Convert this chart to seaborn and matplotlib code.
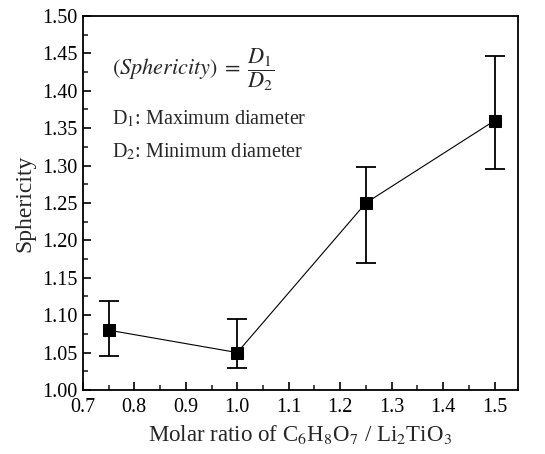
import numpy as np
import pandas as pd
import matplotlib
matplotlib.use('Agg')
import matplotlib.pyplot as plt
import seaborn as sns
from matplotlib.ticker import MultipleLocator

# Data
ratio = [0.75, 1.00, 1.25, 1.50]
sphericity = [1.08, 1.05, 1.25, 1.36]
err_low = [1.045, 1.030, 1.170, 1.296]
err_high = [1.119, 1.095, 1.298, 1.447]

df = pd.DataFrame({'ratio': ratio, 'sphericity': sphericity})

sns.set_style('ticks')
plt.rcParams['font.family'] = ['Liberation Serif', 'DejaVu Serif']
plt.rcParams['mathtext.fontset'] = 'stix'

fig = plt.figure(figsize=(5.45, 4.54), dpi=100)
ax = fig.add_axes([0.152, 0.141, 0.798, 0.824])

yerr = np.array([np.array(sphericity) - np.array(err_low),
                 np.array(err_high) - np.array(sphericity)])
ax.errorbar(ratio, sphericity, yerr=yerr, fmt='none', ecolor='black',
            elinewidth=1.3, capsize=7, capthick=1.3, zorder=2)
sns.lineplot(data=df, x='ratio', y='sphericity', ax=ax, color='black',
             linewidth=0.8, marker='s', markersize=9, markeredgecolor='black',
             markerfacecolor='black', zorder=3)

ax.set_xlim(0.7, 1.545)
ax.set_ylim(1.00, 1.50)
ax.xaxis.set_major_locator(MultipleLocator(0.1))
ax.xaxis.set_minor_locator(MultipleLocator(0.05))
ax.yaxis.set_major_locator(MultipleLocator(0.05))
ax.yaxis.set_minor_locator(MultipleLocator(0.025))
ax.xaxis.set_major_formatter(matplotlib.ticker.FormatStrFormatter('%.1f'))
ax.yaxis.set_major_formatter(matplotlib.ticker.FormatStrFormatter('%.2f'))
ax.tick_params(which='both', direction='in', top=False, right=False, width=1.2)
ax.tick_params(which='major', length=6, labelsize=14.5, colors='black')
ax.tick_params(axis='x', which='major', pad=6)
ax.tick_params(axis='y', which='major', pad=4)
ax.tick_params(which='minor', length=3.5)
for s in ax.spines.values():
    s.set_linewidth(1.3)
    s.set_color('black')

ax.set_xlabel(r'Molar ratio of C$_6$H$_8$O$_7$ / Li$_2$TiO$_3$', fontsize=16.5, labelpad=4)
ax.set_ylabel('Sphericity', fontsize=17, labelpad=5)

ax.text(0.067, 0.856, r'$(\mathit{Sphericity})\;=\;\dfrac{D_1}{D_2}$',
        transform=ax.transAxes, fontsize=16, va='center', ha='left')
ax.text(0.067, 0.725, r'D$_1$: Maximum diameter', transform=ax.transAxes,
        fontsize=14.5, va='center', ha='left')
ax.text(0.067, 0.635, r'D$_2$: Minimum diameter', transform=ax.transAxes,
        fontsize=14.5, va='center', ha='left')

fig.savefig('out.png', dpi=100)
